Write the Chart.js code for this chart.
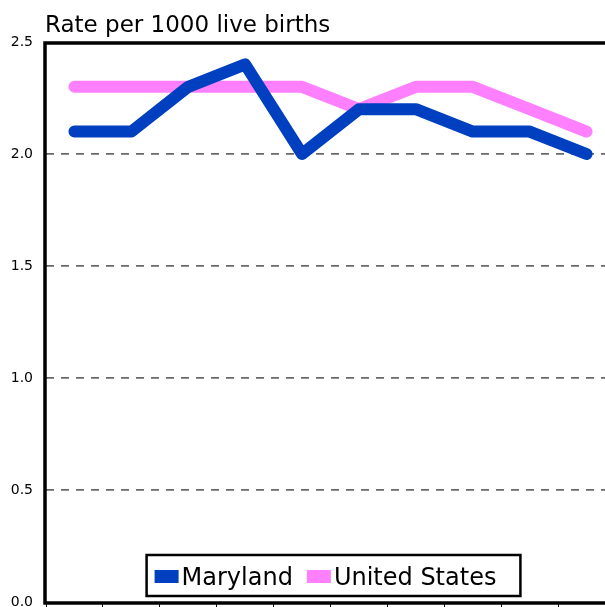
<!DOCTYPE html>
<html>
<head>
<meta charset="utf-8">
<script src="https://cdn.jsdelivr.net/npm/chart.js@4"></script>
<style>
  html, body { margin: 0; padding: 0; overflow: hidden; background: #fff; }
  #wrap { width: 615px; height: 607px; }
</style>
</head>
<body>
<div id="wrap"><canvas id="myChart"></canvas></div>
<script>
let years = ["1996", "1997", "1998", "1999", "2000", "2001", "2002", "2003", "2004", "2005"];
let maryland = [2.1, 2.1, 2.3, 2.4, 2.0, 2.2, 2.2, 2.1, 2.1, 2.0];
let unitedStates = [2.3, 2.3, 2.3, 2.3, 2.3, 2.2, 2.3, 2.3, 2.2, 2.1];
let yTicks = [0, 0.5, 1.0, 1.5, 2.0, 2.5];
let titleText = "Rate per 1000 live births";

let font = "'DejaVu Sans', sans-serif";

// title, frame and legend box are drawn by hand
let decor = {
  id: "decor",
  afterDraw(chart) {
    let c = chart.ctx;
    let a = chart.chartArea;
    c.save();
    // frame
    c.strokeStyle = "#000";
    c.lineWidth = 3.5;
    c.strokeRect(a.left - 1, a.top + 1, a.right - a.left + 10, a.bottom - a.top);
    // title
    c.fillStyle = "#000";
    c.font = "23px " + font;
    c.textBaseline = "alphabetic";
    c.textAlign = "left";
    c.fillText(titleText, a.left - 1, 32);
    // legend
    c.font = "24px " + font;
    let sets = chart.data.datasets;
    let widths = sets.map(d => c.measureText(d.label).width);
    let boxW = 100 + widths[0] + widths[1];
    let boxL = (a.left + a.right) / 2 - boxW / 2 + 3;
    let boxT = a.bottom - 47;
    c.fillStyle = "#fff";
    c.fillRect(boxL, boxT, boxW, 41);
    c.lineWidth = 2.5;
    c.strokeRect(boxL, boxT, boxW, 41);
    let x = boxL + 8;
    sets.forEach((d, i) => {
      c.fillStyle = d.borderColor;
      c.fillRect(x, a.bottom - 32, 24, 13);
      x += 27;
      c.fillStyle = "#000";
      c.fillText(d.label, x, a.bottom - 17);
      x += widths[i] + 14;
    });
    c.restore();
  }
};

new Chart(document.getElementById("myChart"), {
  type: "line",
  data: {
    labels: years,
    datasets: [
      {
        label: "Maryland",
        data: maryland,
        borderColor: "#0040C0",
        backgroundColor: "#0040C0",
        borderWidth: 12,
        borderCapStyle: "round",
        borderJoinStyle: "round",
        pointRadius: 0,
        tension: 0
      },
      {
        label: "United States",
        data: unitedStates,
        borderColor: "#FF80FF",
        backgroundColor: "#FF80FF",
        borderWidth: 12,
        borderCapStyle: "round",
        borderJoinStyle: "round",
        pointRadius: 0,
        tension: 0
      }
    ]
  },
  options: {
    responsive: true,
    maintainAspectRatio: false,
    animation: false,
    layout: { autoPadding: false, padding: { top: 42, left: 0, right: 0, bottom: 0 } },
    plugins: {
      legend: { display: false },
      title: { display: false },
      tooltip: { enabled: false }
    },
    scales: {
      x: {
        offset: true,
        grid: {
          offset: true,
          drawOnChartArea: false,
          drawTicks: true,
          tickLength: 5,
          color: "#000",
          lineWidth: 1
        },
        border: { display: false },
        ticks: { display: false },
        afterFit: s => { s.height = 5; s.paddingLeft = 0; s.paddingRight = 0; }
      },
      y: {
        min: 0,
        max: 2.5,
        afterBuildTicks: s => { s.ticks = yTicks.map(v => ({ value: v })); },
        grid: {
          drawTicks: false,
          color: ctx => (ctx.tick.value === 0 || ctx.tick.value === 2.5) ? "rgba(0,0,0,0)" : "#6a6a6a",
          lineWidth: 1.8
        },
        border: { display: false, dash: [8, 7] },
        ticks: {
          padding: 13,
          color: "#000",
          font: { family: font, size: 14 },
          callback: v => v.toFixed(1)
        },
        afterFit: s => { s.width = 46; s.paddingTop = 0; s.paddingBottom = 0; }
      }
    }
  },
  plugins: [decor]
});
</script>
</body>
</html>
